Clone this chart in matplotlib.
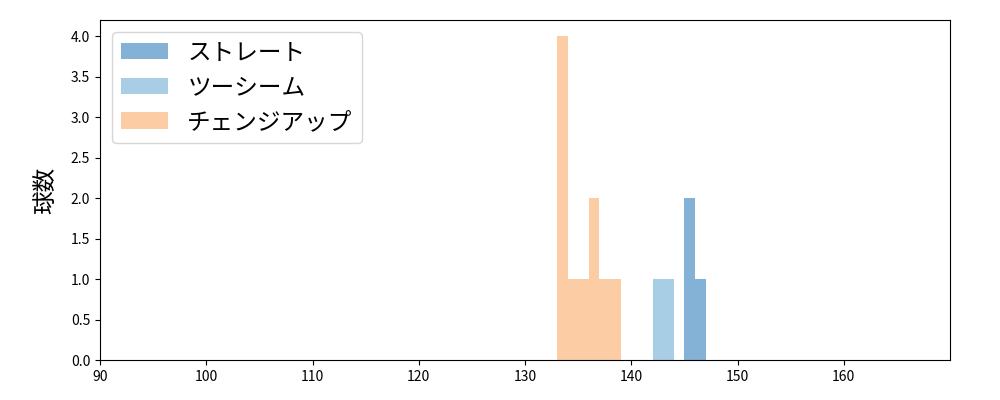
import numpy as np
import matplotlib
matplotlib.use("Agg")
import matplotlib.pyplot as plt

plt.rcParams['font.family'] = ['Noto Sans CJK JP', 'DejaVu Sans']

# pitch speeds (km/h) per pitch type
labels = ["ストレート", "ツーシーム", "チェンジアップ"]
straight = [145, 145, 146]
two_seam = [142, 143]
changeup = [133, 133, 133, 133, 134, 135, 136, 136, 137, 138]
colors = ["#84b2d6", "#a8cee6", "#fccca5"]

bins = np.arange(130, 151, 1)

fig, ax = plt.subplots(figsize=(10, 4), dpi=100)
fig.subplots_adjust(left=0.1, right=0.95, top=0.95, bottom=0.1)

for data, lab, c in zip([straight, two_seam, changeup], labels, colors):
    ax.hist(data, bins=bins, color=c, label=lab)

ax.set_xlim(90, 170)
ax.set_xticks(np.arange(90, 170, 10))
ax.set_ylabel("球数", fontsize=17, labelpad=10)
ax.legend(loc="upper left", fontsize=17)

fig.savefig("out.png")
